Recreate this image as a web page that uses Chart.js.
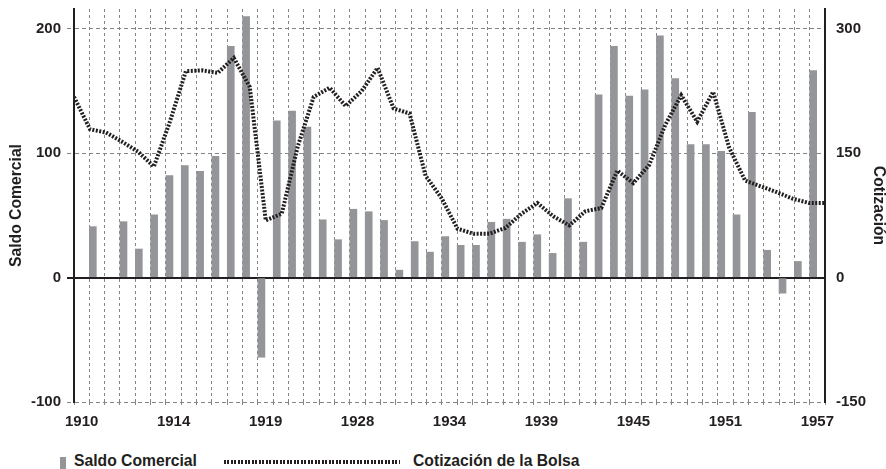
<!DOCTYPE html>
<html>
<head>
<meta charset="utf-8">
<script src="https://cdn.jsdelivr.net/npm/chart.js@4.4.0/dist/chart.umd.min.js"></script>
<style>
  html, body { margin: 0; padding: 0; background: #fff; }
  #wrap { position: relative; width: 886px; height: 469px; overflow: hidden;
          font-family: "Liberation Sans", Arial, sans-serif; font-weight: bold; font-size: 15.7px; color: #231f20; }
  #chart { position: absolute; left: 0; top: 0; }
  .lg { position: absolute; white-space: nowrap; line-height: 18px; }
  #lgBox { left: 60px; top: 457px; width: 6px; height: 12px; background: #939598; }
  #lgDots { left: 224px; top: 460px; width: 176px; height: 4px;
            background: repeating-linear-gradient(90deg, #231f20 0 2px, transparent 2px 3.5px); }
</style>
</head>
<body>
<div id="wrap">
  <canvas id="chart" width="886" height="440"></canvas>
  <div class="lg" id="lgBox"></div>
  <div class="lg" id="lgText1" style="left:74px; top:452px;">Saldo Comercial</div>
  <div class="lg" id="lgDots"></div>
  <div class="lg" id="lgText2" style="left:413px; top:452px;">Cotización de la Bolsa</div>
</div>
<script>
// Data
const years = [1910, 1911, 1912, 1913, 1914, 1915, 1916, 1917, 1918, 1919,
               1920, 1921, 1922, 1923, 1924, 1925, 1926, 1927, 1928, 1929,
               1930, 1931, 1932, 1933, 1934, 1935, 1936, 1937, 1938, 1939,
               1940, 1941, 1942, 1943, 1944, 1945, 1946, 1947, 1948, 1949,
               1950, 1951, 1952, 1953, 1954, 1955, 1956, 1957];

// Saldo Comercial (left axis)
const saldoComercial = [41, null, 45, 23, 50.5, 82, 90, 85.5, 97.5, 186,
                        210, -64, 126, 134, 121, 46.5, 30.5, 55, 53, 46,
                        6, 29, 20.5, 33, 26, 26, 44.5, 47, 28.5, 34.5,
                        19.5, 63.5, 28.5, 147, 186, 146, 151, 194.5, 160, 107,
                        107, 101.5, 50.5, 133, 22, -12.5, 13, 166.5];

// Cotización de la Bolsa (right axis)
const cotizacion = [218, 179, 175, 164, 152, 134, 188, 249, 250, 247,
                    265, 230, 69, 77, 158, 218, 229, 207, 225, 253,
                    204, 198, 123, 96, 59, 53, 53, 60, 77, 90,
                    74, 63, 80, 84, 129, 114, 136, 184, 220, 188,
                    224, 157, 117, 110, 103, 95, 90, 90];

// x tick labels, one every 6 grid columns
const tickLabels = ['1910', '1914', '1919', '1928', '1934', '1939', '1945', '1951', '1957'];
const tickEvery = 6;

const INK = '#231f20';
const GRID = '#858585';
const BAR = '#939598';
const FONT = { family: '"Liberation Sans", Arial, sans-serif', size: 15, weight: 'bold' };
const TITLE_FONT = { family: '"Liberation Sans", Arial, sans-serif', size: 15.7, weight: 'bold', lineHeight: 1 };

const isZero = (ctx) => ctx.tick && ctx.tick.value === 0;

// fixed axis boxes so the plot area lands where the reference has it
function fixWidth(w) {
    return (s) => { s.width = w; s.paddingTop = 0; s.paddingBottom = 0; };
}

new Chart(document.getElementById('chart'), {
    data: {
        datasets: [{
            type: 'line',
            label: 'Cotización de la Bolsa',
            data: years.map((yr, i) => ({ x: yr, y: cotizacion[i] })),
            xAxisID: 'x2',
            yAxisID: 'y2',
            borderColor: INK,
            borderWidth: 4,
            borderDash: [2, 1.5],
            pointRadius: 0,
            tension: 0,
            fill: false,
            order: 0
        }, {
            type: 'bar',
            label: 'Saldo Comercial',
            data: years.map((yr, i) => ({ x: i + 0.5, y: saldoComercial[i] })),
            xAxisID: 'x',
            yAxisID: 'y',
            backgroundColor: BAR,
            barThickness: 7,
            order: 1
        }]
    },
    options: {
        responsive: false,
        animation: false,
        layout: { padding: { top: 9, left: 0, right: 0, bottom: 0 } },
        plugins: { legend: { display: false }, tooltip: { enabled: false } },
        scales: {
            x: {
                type: 'linear',
                position: 'bottom',
                min: 0,
                max: years.length,
                ticks: {
                    stepSize: 1,
                    autoSkip: false,
                    maxRotation: 0,
                    padding: 6,
                    color: INK,
                    font: FONT,
                    callback: (v) => v % tickEvery === 0 ? tickLabels[v / tickEvery] : ''
                },
                grid: { color: GRID, lineWidth: 1, tickLength: 5, tickColor: GRID, tickBorderDash: [3, 3] },
                border: { display: false, dash: [3, 3] },
                afterFit: (s) => { s.height = 38; s.paddingLeft = 0; s.paddingRight = 0; }
            },
            x2: { type: 'linear', min: years[0], max: years[years.length - 1], display: false },
            y: {
                position: 'left',
                min: -100,
                max: 216,
                ticks: { stepSize: 100, includeBounds: false, padding: 6, color: INK, font: FONT },
                grid: {
                    color: (ctx) => isZero(ctx) ? INK : GRID,
                    lineWidth: (ctx) => isZero(ctx) ? 2 : 1,
                    tickLength: 7,
                    tickColor: (ctx) => isZero(ctx) ? INK : GRID,
                    tickWidth: (ctx) => isZero(ctx) ? 2 : 1,
                    tickBorderDash: (ctx) => isZero(ctx) ? [] : [4, 3]
                },
                border: { display: true, color: INK, width: 2, dash: (ctx) => isZero(ctx) ? [] : [4, 3] },
                title: { display: true, text: 'Saldo Comercial', color: INK, font: TITLE_FONT, padding: { top: 9, bottom: 0 } },
                afterFit: fixWidth(74)
            },
            y2: {
                position: 'right',
                min: -150,
                max: 324,
                ticks: { stepSize: 150, includeBounds: false, padding: 11, color: INK, font: FONT },
                grid: { drawOnChartArea: false, drawTicks: false },
                border: { display: true, color: INK, width: 2 },
                title: { display: true, text: 'Cotización', color: INK, font: TITLE_FONT, padding: { top: 0, bottom: 0 } },
                afterFit: fixWidth(61)
            }
        }
    }
});
</script>
</body>
</html>
